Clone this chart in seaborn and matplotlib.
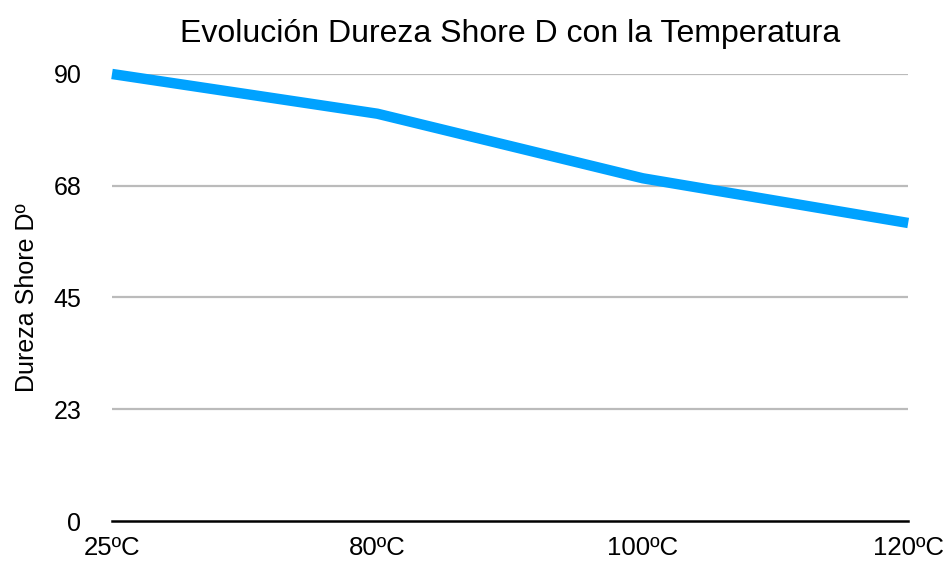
import numpy as np
import matplotlib.pyplot as plt
import seaborn as sns
import pandas as pd

temperaturas = ["25ºC", "80ºC", "100ºC", "120ºC"]
dureza = [90, 82, 69, 60]
y_ticks = [0, 22.5, 45, 67.5, 90]
y_tick_labels = ["0", "23", "45", "68", "90"]

df = pd.DataFrame({"temp": temperaturas, "dureza": dureza})

sns.set_style("white")
plt.rcParams['font.family'] = ['Liberation Sans', 'DejaVu Sans']
plt.rcParams['text.color'] = 'black'
plt.rcParams['axes.labelcolor'] = 'black'
plt.rcParams['xtick.color'] = 'black'
plt.rcParams['ytick.color'] = 'black'

fig = plt.figure(figsize=(9.49, 5.63), dpi=100)
ax = fig.add_axes([0.118, 0.0746, 0.839, 0.794])

ax.set_ylim(0, 90)
for t in y_ticks[1:]:
    ax.axhline(t, color="#bbbbbb", linewidth=1.6, zorder=0)

sns.lineplot(data=df, x="temp", y="dureza", sort=False, color="#00a2ff",
             linewidth=7.5, ax=ax, clip_on=False, solid_capstyle="butt")

ax.set_xlim(0, len(temperaturas) - 1)
ax.set_yticks(y_ticks)
ax.set_yticklabels(y_tick_labels)
ax.tick_params(axis="y", length=0, pad=22, labelsize=18, labelcolor="black")
ax.tick_params(axis="x", length=0, pad=11, labelsize=18.5, labelcolor="black")

for s in ["top", "right", "left"]:
    ax.spines[s].set_visible(False)
ax.spines["bottom"].set_color("black")
ax.spines["bottom"].set_linewidth(1.8)

ax.set_xlabel("")
ax.set_ylabel("Dureza Shore Dº", fontsize=18, color="black")
ax.yaxis.set_label_coords(-0.092, 0.5)
ax.set_title("Evolución Dureza Shore D con la Temperatura", fontsize=23,
             pad=23, color="black")

fig.savefig("out.png", dpi=100)
